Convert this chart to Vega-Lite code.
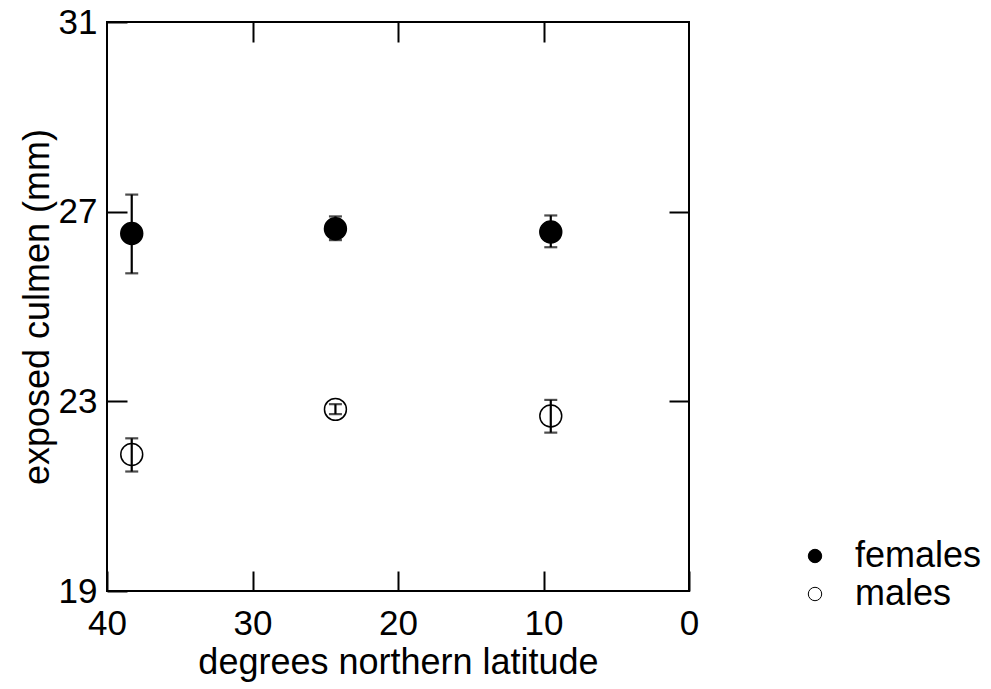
{
  "$schema": "https://vega.github.io/schema/vega-lite/v6.json",
  "width": 582,
  "height": 569,
  "autosize": "none",
  "padding": {"left": 107, "top": 22, "right": 302, "bottom": 98},
  "background": "white",
  "config": {
    "font": "Liberation Sans",
    "view": {"stroke": "black", "strokeWidth": 2},
    "axis": {"grid": false, "domain": false, "labelFont": "Liberation Sans", "titleFont": "Liberation Sans", "labelColor": "black", "titleColor": "black", "tickColor": "black", "tickWidth": 2, "titleFontWeight": "normal"}
  },
  "data": {
    "values": [
      {"lat": 38.3, "culmen": 26.54, "lo": 25.70, "hi": 27.36, "sex": "females"},
      {"lat": 24.3, "culmen": 26.64, "lo": 26.40, "hi": 26.90, "sex": "females"},
      {"lat": 9.5, "culmen": 26.57, "lo": 26.25, "hi": 26.92, "sex": "females"},
      {"lat": 38.3, "culmen": 21.88, "lo": 21.52, "hi": 22.22, "sex": "males"},
      {"lat": 24.3, "culmen": 22.83, "lo": 22.73, "hi": 22.94, "sex": "males"},
      {"lat": 9.5, "culmen": 22.69, "lo": 22.34, "hi": 23.03, "sex": "males"}
    ]
  },
  "layer": [
    {
      "mark": {"type": "point", "shape": "circle", "size": 480, "stroke": "black", "strokeWidth": 1.5, "opacity": 1},
      "encoding": {
        "x": {"field": "lat", "type": "quantitative", "scale": {"domain": [40, 0], "nice": false, "zero": false},
          "axis": {"orient": "bottom", "values": [40, 30, 20, 10, 0], "tickSize": -20, "labelFontSize": 35, "labelPadding": 35, "title": "degrees northern latitude", "titleFontSize": 36, "titlePadding": 4, "labelFlush": false}},
        "y": {"field": "culmen", "type": "quantitative", "scale": {"domain": [19, 31], "nice": false, "zero": false},
          "axis": {"orient": "left", "values": [19, 23, 27, 31], "tickSize": -20, "labelFontSize": 35, "labelPadding": 30, "title": "exposed culmen (mm)", "titleFontSize": 36, "titlePadding": 2}},
        "fill": {"field": "sex", "type": "nominal", "scale": {"domain": ["females", "males"], "range": ["black", "white"]},
          "legend": {"orient": "none", "legendX": 690, "legendY": 516, "title": null, "symbolType": "circle", "symbolSize": 180, "symbolStrokeColor": "black", "symbolStrokeWidth": 1, "labelFontSize": 36, "labelFont": "Liberation Sans", "labelColor": "black", "rowPadding": 2, "labelOffset": 22}}
      }
    },
    {
      "mark": {"type": "rule", "color": "black", "strokeWidth": 2.2},
      "encoding": {
        "x": {"field": "lat", "type": "quantitative", "axis": {"orient": "top", "values": [30, 20, 10], "tickSize": -20, "labels": false, "title": null}},
        "y": {"field": "lo", "type": "quantitative", "axis": {"orient": "right", "values": [23, 27], "tickSize": -20, "labels": false, "title": null}},
        "y2": {"field": "hi"}
      }
    },
    {
      "mark": {"type": "tick", "color": "black", "thickness": 2.2, "size": 13, "orient": "horizontal"},
      "encoding": {
        "x": {"field": "lat", "type": "quantitative", "axis": null},
        "y": {"field": "lo", "type": "quantitative", "axis": null}
      }
    },
    {
      "mark": {"type": "tick", "color": "black", "thickness": 2.2, "size": 13, "orient": "horizontal"},
      "encoding": {
        "x": {"field": "lat", "type": "quantitative", "axis": null},
        "y": {"field": "hi", "type": "quantitative", "axis": null}
      }
    }
  ],
  "resolve": {"axis": {"x": "independent", "y": "independent"}}
}
